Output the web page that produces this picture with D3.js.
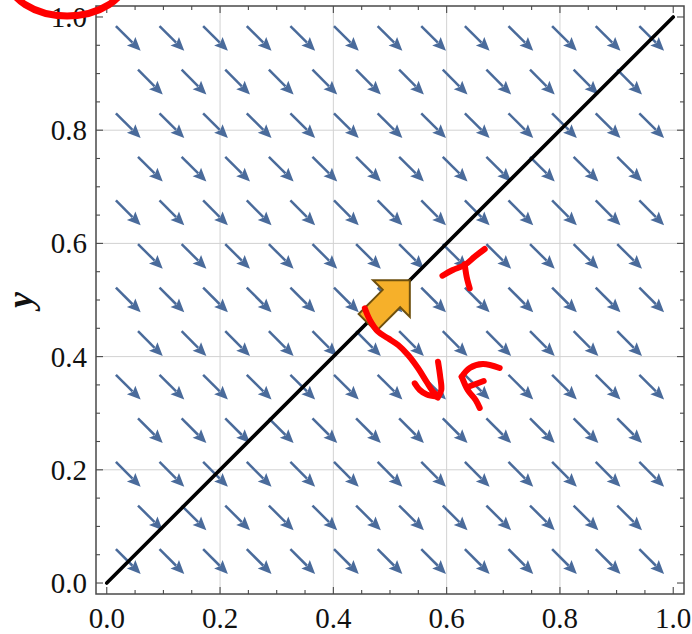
<!DOCTYPE html>
<html>
<head>
<meta charset="utf-8">
<script src="https://cdn.jsdelivr.net/npm/d3@7"></script>
<style>
  html, body { margin: 0; padding: 0; background: #fff; }
  svg { display: block; }
</style>
</head>
<body>
<svg id="chart" width="692" height="634"></svg>
<script>
// Axis ticks
const majorTicks = [0.0, 0.2, 0.4, 0.6, 0.8, 1.0];
const minorTicks = [0.05, 0.1, 0.15, 0.25, 0.3, 0.35, 0.45, 0.5, 0.55, 0.65, 0.7, 0.75, 0.85, 0.9, 0.95];
const gridLines = [0.2, 0.4, 0.6, 0.8];
const tickLabels = ["0.0", "0.2", "0.4", "0.6", "0.8", "1.0"];
const yAxisTitle = "y";

// Vector field sample points: rows alternate between the full and the shifted column set
const fieldRows = [0.038, 0.115, 0.192, 0.269, 0.346, 0.423, 0.5, 0.577, 0.654, 0.731, 0.808, 0.885, 0.962];
const fullCols = [0.038, 0.115, 0.192, 0.269, 0.346, 0.423, 0.5, 0.577, 0.654, 0.731, 0.808, 0.885, 0.962];
const shiftedCols = [0.077, 0.154, 0.231, 0.308, 0.385, 0.462, 0.538, 0.615, 0.692, 0.769, 0.846, 0.923];
const fieldVector = [1, -1];

// Diagonal y = x
const diagonal = [[0, 0], [1, 1]];

// Highlighted direction along the diagonal
const blockArrowTail = [0.46, 0.46];
const blockArrowTip = [0.535, 0.535];

// Hand-drawn marks (data coordinates)
const markT = [
  [[0.5926, 0.5429], [0.6108, 0.553], [0.6319, 0.5618], [0.6496, 0.5765], [0.6672, 0.5901]],
  [[0.6319, 0.5631], [0.6354, 0.5406], [0.6407, 0.5207]]
];
const markCurve = [
  [[0.4556, 0.4853], [0.4644, 0.4647], [0.4790, 0.4440], [0.4966, 0.4323], [0.5143, 0.4205],
   [0.5319, 0.4028], [0.5496, 0.3793], [0.5644, 0.3557], [0.5760, 0.3380], [0.5843, 0.3304]],
  [[0.5437, 0.3528], [0.5526, 0.3410], [0.5649, 0.3330], [0.5825, 0.3295]],
  [[0.5848, 0.3910], [0.5887, 0.3640], [0.5905, 0.3410], [0.5843, 0.3277]]
];
const markF = [
  [[0.6266, 0.3645], [0.6407, 0.3799], [0.6637, 0.3869], [0.6936, 0.3799]],
  [[0.6266, 0.3645], [0.6372, 0.3410], [0.6513, 0.3233], [0.6584, 0.3092]],
  [[0.6372, 0.3463], [0.6654, 0.3569]]
];
const markEllipse = { cx: -0.070, cy: 1.069, rx: 0.104, ry: 0.0671 };

// ---------- drawing ----------
const serif = "Liberation Serif, Times New Roman, serif";
const svg = d3.select("#chart");
const frame = { left: 96, right: 684, top: 6, bottom: 594 };

const x = d3.scaleLinear().domain([-0.019, 1.019]).range([frame.left, frame.right]);
const y = d3.scaleLinear().domain([-0.0194, 1.0194]).range([frame.bottom, frame.top]);

const axisColor = "#4a4a4a";
const fieldColor = "#4a6b9b";

// grid
const grid = svg.append("g");
grid.selectAll("line.gx").data(gridLines).join("line")
  .attr("x1", d => x(d)).attr("x2", d => x(d))
  .attr("y1", frame.top).attr("y2", frame.bottom)
  .attr("stroke", "#d2d2d2").attr("stroke-width", 1);
grid.selectAll("line.gy").data(gridLines).join("line")
  .attr("y1", d => y(d)).attr("y2", d => y(d))
  .attr("x1", frame.left).attr("x2", frame.right)
  .attr("stroke", "#d2d2d2").attr("stroke-width", 1);

// vector field arrows
const fieldPoints = [];
fieldRows.forEach((ry, i) => {
  const cols = i % 2 === 0 ? fullCols : shiftedCols;
  cols.forEach(cx => fieldPoints.push([cx, ry]));
});
const arrowLen = 35, headLen = 13.5, headHalf = 6;
const fg = svg.append("g");
fieldPoints.forEach(([px, py]) => {
  const sx = x(px), sy = y(py);
  let dx = x(px + fieldVector[0]) - sx, dy = y(py + fieldVector[1]) - sy;
  const n = Math.hypot(dx, dy); dx /= n; dy /= n;
  const tx = sx + dx * arrowLen / 2, ty = sy + dy * arrowLen / 2;
  const bx = sx - dx * arrowLen / 2, by = sy - dy * arrowLen / 2;
  const hx = tx - dx * headLen, hy = ty - dy * headLen;
  fg.append("line")
    .attr("x1", bx).attr("y1", by).attr("x2", hx + dx * 2).attr("y2", hy + dy * 2)
    .attr("stroke", fieldColor).attr("stroke-width", 2.5);
  fg.append("path")
    .attr("d", `M${tx},${ty}L${hx - dy * headHalf},${hy + dx * headHalf}L${hx + dx * 2.5},${hy + dy * 2.5}L${hx + dy * headHalf},${hy - dx * headHalf}Z`)
    .attr("fill", fieldColor);
});

// diagonal line
svg.append("path")
  .attr("d", d3.line().x(d => x(d[0])).y(d => y(d[1]))(diagonal))
  .attr("stroke", "#000").attr("stroke-width", 3.6).attr("stroke-linecap", "round").attr("fill", "none");

// block arrow along the diagonal
(function () {
  const t0 = [x(blockArrowTail[0]), y(blockArrowTail[1])];
  const t1 = [x(blockArrowTip[0]), y(blockArrowTip[1])];
  let ux = t1[0] - t0[0], uy = t1[1] - t0[1];
  const L = Math.hypot(ux, uy); ux /= L; uy /= L;
  const px = -uy, py = ux;
  const head = 26, hw = 26, sw = 12.3;
  const b = [t1[0] - ux * head, t1[1] - uy * head];
  const pts = [
    [t0[0] + px * sw, t0[1] + py * sw],
    [b[0] + px * sw, b[1] + py * sw],
    [b[0] + px * hw, b[1] + py * hw],
    t1,
    [b[0] - px * hw, b[1] - py * hw],
    [b[0] - px * sw, b[1] - py * sw],
    [t0[0] - px * sw, t0[1] - py * sw]
  ];
  svg.append("path")
    .attr("d", "M" + pts.map(p => p.join(",")).join("L") + "Z")
    .attr("fill", "#f6b02a").attr("stroke", "#6e500f").attr("stroke-width", 2).attr("stroke-linejoin", "miter");
})();

// frame
svg.append("rect")
  .attr("x", frame.left).attr("y", frame.top)
  .attr("width", frame.right - frame.left).attr("height", frame.bottom - frame.top)
  .attr("fill", "none").attr("stroke", axisColor).attr("stroke-width", 1.5);

// ticks on all four sides
const ticks = svg.append("g").attr("stroke", axisColor).attr("stroke-width", 1.1);
const allTicks = majorTicks.map(v => ({ v, len: 7 })).concat(minorTicks.map(v => ({ v, len: 4 })));
allTicks.forEach(({ v, len }) => {
  ticks.append("line").attr("x1", x(v)).attr("x2", x(v)).attr("y1", frame.bottom).attr("y2", frame.bottom - len);
  ticks.append("line").attr("x1", x(v)).attr("x2", x(v)).attr("y1", frame.top).attr("y2", frame.top + len);
  ticks.append("line").attr("y1", y(v)).attr("y2", y(v)).attr("x1", frame.left).attr("x2", frame.left + len);
  ticks.append("line").attr("y1", y(v)).attr("y2", y(v)).attr("x1", frame.right).attr("x2", frame.right - len);
});

// tick labels
svg.append("g").selectAll("text").data(majorTicks).join("text")
  .attr("x", d => x(d)).attr("y", 628)
  .attr("text-anchor", "middle").attr("font-family", serif).attr("font-size", 29).attr("fill", "#111")
  .text((d, i) => tickLabels[i]);
svg.append("g").selectAll("text").data(majorTicks).join("text")
  .attr("x", 87).attr("y", d => y(d) + 10)
  .attr("text-anchor", "end").attr("font-family", serif).attr("font-size", 29).attr("fill", "#111")
  .text((d, i) => tickLabels[i]);

// axis title
svg.append("text")
  .attr("transform", "translate(32,300) rotate(-90)")
  .attr("text-anchor", "middle")
  .attr("font-family", serif)
  .attr("font-size", 36).attr("font-weight", "bold").attr("font-style", "italic")
  .attr("fill", "#111")
  .text(yAxisTitle);

// hand-drawn marks
const red = "#ff0000";
const marks = svg.append("g").attr("fill", "none").attr("stroke", red)
  .attr("stroke-linecap", "round").attr("stroke-linejoin", "round");
const pen = d3.line().x(d => x(d[0])).y(d => y(d[1])).curve(d3.curveCatmullRom);
[...markT, ...markCurve, ...markF].forEach(s => {
  marks.append("path").attr("d", pen(s)).attr("stroke-width", 6);
});
marks.append("ellipse")
  .attr("cx", x(markEllipse.cx)).attr("cy", y(markEllipse.cy))
  .attr("rx", x(markEllipse.rx) - x(0)).attr("ry", y(0) - y(markEllipse.ry))
  .attr("stroke-width", 7);
</script>
</body>
</html>
